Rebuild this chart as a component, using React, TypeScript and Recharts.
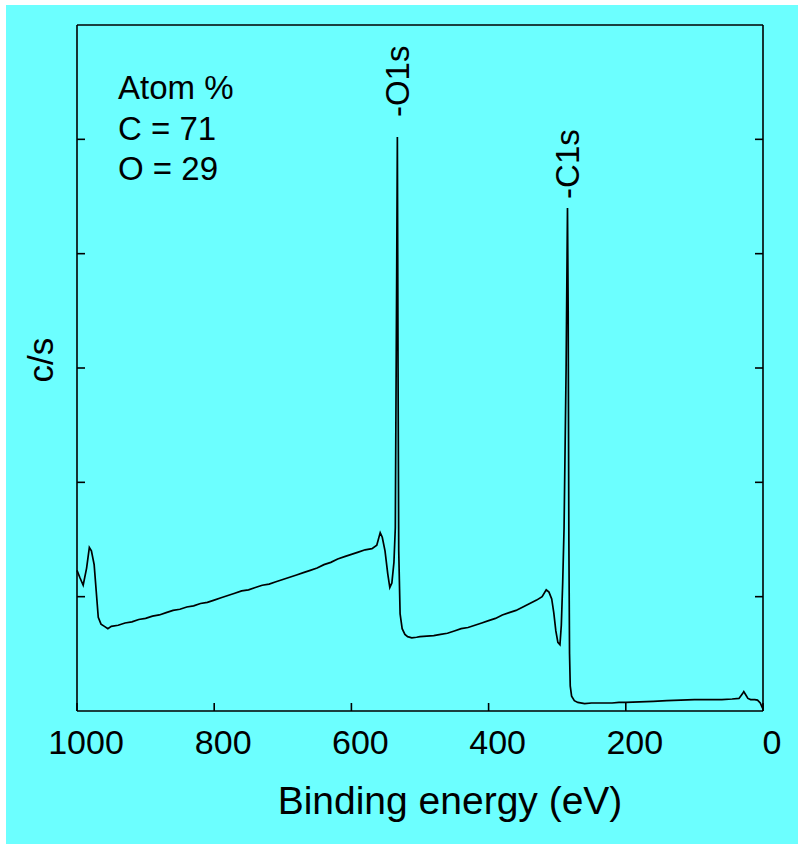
import { LineChart, Line, XAxis, YAxis, ReferenceLine, ReferenceDot, Label, Customized } from "recharts";

// binding energy (eV) and intensity (arbitrary units, tick spacing = 1)
const energy = [
  1000, 996, 991, 986, 982, 979, 975, 972, 969, 965, 960, 955, 950, 940, 930, 920, 910, 900,
  890, 880, 870, 860, 850, 840, 830, 820, 810, 800, 790, 780, 770, 760, 750, 740, 730, 720,
  710, 700, 690, 680, 670, 660, 650, 640, 630, 620, 610, 600, 590, 580, 570, 563, 558, 555,
  551, 547, 544, 541, 538, 536, 534, 533, 532, 531, 529, 526, 522, 518, 512, 505, 500, 490,
  480, 470, 460, 450, 440, 430, 420, 410, 400, 390, 380, 370, 360, 350, 340, 330, 322, 316,
  312, 308, 305, 302, 299, 296, 294, 292, 290, 287, 285, 284, 283, 282, 281, 279, 275, 270,
  260, 250, 240, 230, 220, 210, 200, 180, 160, 140, 120, 100, 80, 60, 45, 35, 30, 28, 25, 22,
  18, 12, 8, 4, 1, 0,
];
const counts = [
  1.23, 1.17, 1.1, 1.25, 1.43, 1.4, 1.28, 1.05, 0.82, 0.76, 0.74, 0.72, 0.74, 0.75, 0.77, 0.78, 0.8, 0.81,
  0.83, 0.84, 0.86, 0.88, 0.89, 0.91, 0.92, 0.94, 0.95, 0.97, 0.99, 1.01, 1.03, 1.05, 1.06, 1.08, 1.1, 1.11,
  1.13, 1.15, 1.17, 1.19, 1.21, 1.23, 1.25, 1.28, 1.3, 1.33, 1.35, 1.37, 1.39, 1.41, 1.42, 1.45, 1.56, 1.52,
  1.4, 1.2, 1.08, 1.12, 1.3, 1.6, 3.8, 5.02, 3.0, 1.4, 0.85, 0.72, 0.67, 0.65, 0.64, 0.645, 0.65, 0.655,
  0.66, 0.67, 0.68, 0.7, 0.72, 0.73, 0.75, 0.77, 0.79, 0.81, 0.84, 0.86, 0.88, 0.91, 0.94, 0.97, 1.0, 1.06,
  1.04, 0.98, 0.86, 0.7, 0.6, 0.58, 0.75, 1.12, 1.6, 3.0, 4.4, 3.5, 1.5, 0.5, 0.22, 0.13, 0.09, 0.075,
  0.065, 0.07, 0.07, 0.07, 0.07, 0.075, 0.075, 0.08, 0.085, 0.09, 0.095, 0.1, 0.1, 0.1, 0.105, 0.11, 0.15, 0.17, 0.14, 0.11,
  0.1, 0.1, 0.095, 0.07, 0.03, 0.02,
];

const xTicks = [0, 200, 400, 600, 800, 1000];
const yTicks = [1, 2, 3, 4, 5];
const peakNames = ["-O1s", "-C1s"];
const peakEnergy = [533, 285];
const peakTop = [5.02, 4.4];
const atomLines = ["Atom %", "C = 71", "O = 29"];

const data = energy.map((ev, i) => ({ ev, cps: counts[i] }));

const FONT = "'Liberation Sans', Arial, sans-serif";

const XTick = (props: any) => {
  const { x, y, payload } = props;
  return (
    <text x={x + 9} y={y} dy="0.71em" textAnchor="middle" fontSize={34} fontFamily={FONT} fill="#000">
      {payload.value}
    </text>
  );
};

const peakGap: Record<string, number> = { "-O1s": 20, "-C1s": 9 };

export default function App() {
  return (
    <div style={{ position: "absolute", left: 6, top: 5, width: 792, height: 839, background: "#6cffff" }}>
      <LineChart width={792} height={839} data={data} margin={{ top: 20, right: 0, bottom: 0, left: 0 }}>
        <XAxis
          dataKey="ev"
          type="number"
          domain={[0, 1000]}
          reversed
          ticks={xTicks}
          tickSize={-8}
          tickMargin={27}
          tick={<XTick />}
          height={133}
          stroke="#000"
          strokeWidth={1.6}
        >
          <Label
            content={({ viewBox }: any) => (
              <text
                x={viewBox.x + viewBox.width / 2 + 30}
                y={viewBox.y + 103}
                textAnchor="middle"
                fontSize={39}
                fontFamily={FONT}
                fill="#000"
              >
                Binding energy (eV)
              </text>
            )}
          />
        </XAxis>
        <YAxis
          type="number"
          domain={[0, 6]}
          ticks={yTicks}
          tickSize={-8}
          tickFormatter={() => ""}
          width={71}
          stroke="#000"
          strokeWidth={1.6}
        >
          <Label
            content={({ viewBox }: any) => {
              const cx = viewBox.x + 34;
              const cy = viewBox.y + viewBox.height / 2 - 8;
              return (
                <text
                  x={cx}
                  y={cy}
                  transform={`rotate(-90, ${cx}, ${cy})`}
                  textAnchor="middle"
                  dominantBaseline="central"
                  fontSize={35}
                  fontFamily={FONT}
                  fill="#000"
                >
                  c/s
                </text>
              );
            }}
          />
        </YAxis>
        <YAxis
          yAxisId="r"
          orientation="right"
          type="number"
          domain={[0, 6]}
          allowDataOverflow
          ticks={yTicks}
          tickSize={-8}
          tickFormatter={() => ""}
          width={35}
          stroke="#000"
          strokeWidth={1.6}
        />
        <ReferenceLine y={6} stroke="#000" strokeWidth={1.6} />
        {/* same trace on the right axis, hidden, so that axis gets its ticks */}
        <Line
          yAxisId="r"
          dataKey="cps"
          stroke="none"
          dot={false}
          activeDot={false}
          isAnimationActive={false}
        />
        <Line
          dataKey="cps"
          type="linear"
          stroke="#000"
          strokeWidth={1.7}
          dot={false}
          isAnimationActive={false}
        />
        {peakNames.map((name, i) => (
          <ReferenceDot
            key={name}
            x={peakEnergy[i]}
            y={peakTop[i]}
            r={0}
            stroke="none"
            fill="none"
            label={{
              content: ({ viewBox }: any) => {
                const cx = viewBox.x;
                const cy = viewBox.y - peakGap[name];
                return (
                  <text
                    x={cx}
                    y={cy}
                    transform={`rotate(-90, ${cx}, ${cy})`}
                    textAnchor="start"
                    dominantBaseline="central"
                    fontSize={33}
                    fontFamily={FONT}
                    fill="#000"
                  >
                    {name}
                  </text>
                );
              },
            }}
          />
        ))}
        <Customized
          component={() => (
            <g>
              {atomLines.map((t, i) => (
                <text key={t} x={112} y={94 + i * 40.5} fontSize={33} fontFamily={FONT} fill="#000">
                  {t}
                </text>
              ))}
            </g>
          )}
        />
      </LineChart>
    </div>
  );
}
